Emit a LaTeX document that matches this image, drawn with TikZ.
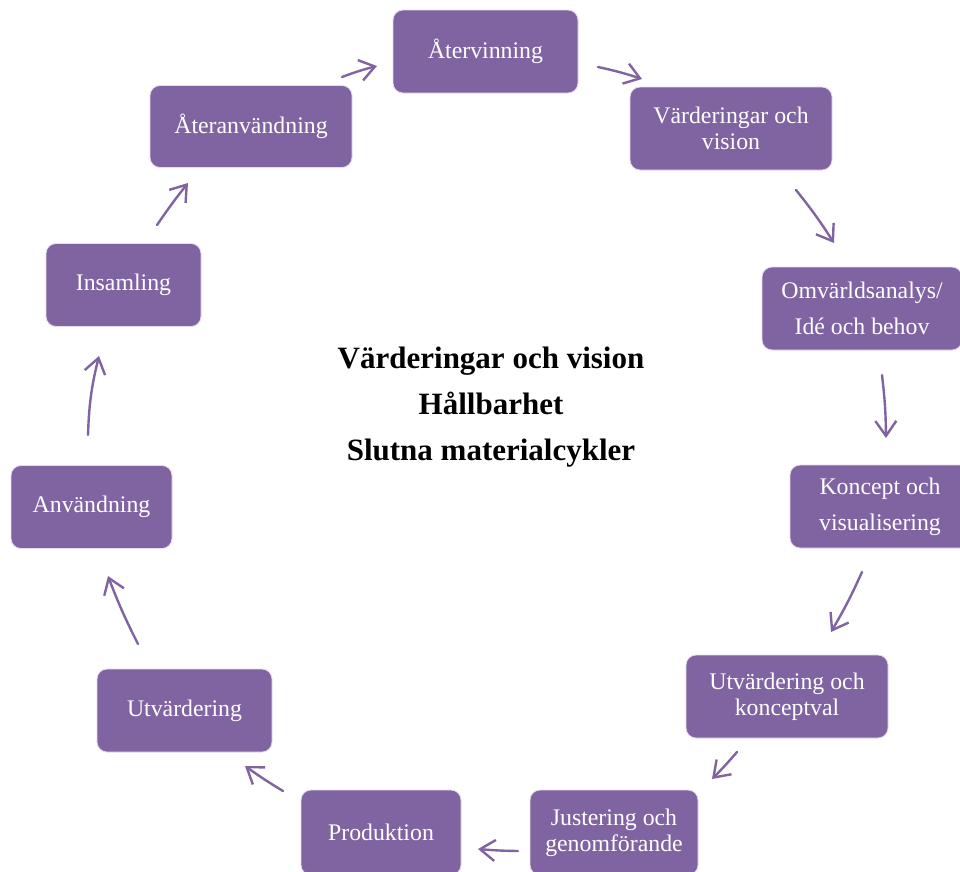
\documentclass[tikz,border=0pt]{standalone}
\usepackage{fontspec}
\setmainfont{Liberation Serif}
\usetikzlibrary{arrows.meta}
\definecolor{boxpurple}{HTML}{8064A2}
\definecolor{boxedge}{HTML}{E4DCEE}
\tikzset{
  stepbox/.style={rectangle, rounded corners=10pt, fill=boxpurple, draw=boxedge, line width=0.8pt,
    text=white, align=center, inner sep=0pt, font=\fontsize{23.8}{26}\selectfont},
  widebox/.style={stepbox, font=\fontsize{23.8}{36}\selectfont},
  arr/.style={draw=boxpurple, line width=2.4pt, line cap=round,
    -{Straight Barb[length=15pt,width=21pt,line width=2.4pt]}},
}
\begin{document}
\begin{tikzpicture}[x=1pt,y=-1pt]
\useasboundingbox (0,0) rectangle (960,871);
\fill[white] (0,0) rectangle (960,871);
% boxes
\node[stepbox, minimum width=185pt, minimum height=83pt] (atv) at (485.5,51.5) {Återvinning};
\node[stepbox, minimum width=202pt, minimum height=83pt] (vv) at (731,128.5) {Värderingar och\\vision};
\node[widebox, minimum width=200pt, minimum height=83pt] (omv) at (862,308.5) {Omvärldsanalys/\\Idé och behov};
\node[widebox, minimum width=180pt, minimum height=83pt] (kon) at (880,506.5) {Koncept och\\visualisering};
\node[stepbox, minimum width=202pt, minimum height=83pt] (utk) at (787,696.5) {Utvärdering och\\konceptval};
\node[stepbox, minimum width=168pt, minimum height=85pt] (jus) at (614,832.5) {Justering och\\genomförande};
\node[stepbox, minimum width=160pt, minimum height=85pt] (pro) at (381,832.5) {Produktion};
\node[stepbox, minimum width=175pt, minimum height=83pt] (utv) at (184.5,710.5) {Utvärdering};
\node[stepbox, minimum width=161pt, minimum height=83pt] (anv) at (91.5,507) {Användning};
\node[stepbox, minimum width=155pt, minimum height=83pt] (ins) at (123.5,285) {Insamling};
\node[stepbox, minimum width=202pt, minimum height=82pt] (ater) at (251,126.5) {Återanvändning};
% centre text
\node[font=\fontsize{31}{46}\selectfont\bfseries, align=center] (mid) at (491,407)
  {Värderingar och vision\\Hållbarhet\\Slutna materialcykler};
% arrow end points
\coordinate (a1s) at (342,77);  \coordinate (a1e) at (377,66);
\coordinate (a2s) at (598,67);  \coordinate (a2e) at (642,79);
\coordinate (a3s) at (796,190); \coordinate (a3e) at (834,243);
\coordinate (a4s) at (882,375); \coordinate (a4e) at (886,438);
\coordinate (a5s) at (862,572); \coordinate (a5e) at (831,632);
\coordinate (a6s) at (737,752); \coordinate (a6e) at (712,779);
\coordinate (a7s) at (518,851); \coordinate (a7e) at (478,849);
\coordinate (a8s) at (283,791); \coordinate (a8e) at (245,766);
\coordinate (a9s) at (138,644); \coordinate (a9e) at (108,576);
\coordinate (a10s) at (88,435); \coordinate (a10e) at (99,356);
\coordinate (a11s) at (157,225); \coordinate (a11e) at (188,183);
% arrows (cycle: ater -> atv -> vv -> omv -> kon -> utk -> jus -> pro -> utv -> anv -> ins -> ater)
\draw[arr] (a1s) to[bend left=3] (a1e);
\draw[arr] (a2s) to[bend left=3] (a2e);
\draw[arr] (a3s) to[bend left=3] (a3e);
\draw[arr] (a4s) to[bend left=3] (a4e);
\draw[arr] (a5s) to[bend left=3] (a5e);
\draw[arr] (a6s) to[bend left=2] (a6e);
\draw[arr] (a7s) to[bend left=2] (a7e);
\draw[arr] (a8s) to[bend left=2] (a8e);
\draw[arr] (a9s) to[bend left=3] (a9e);
\draw[arr] (a10s) to[bend left=6] (a10e);
\draw[arr] (a11s) to[bend left=2] (a11e);
\end{tikzpicture}
\end{document}
